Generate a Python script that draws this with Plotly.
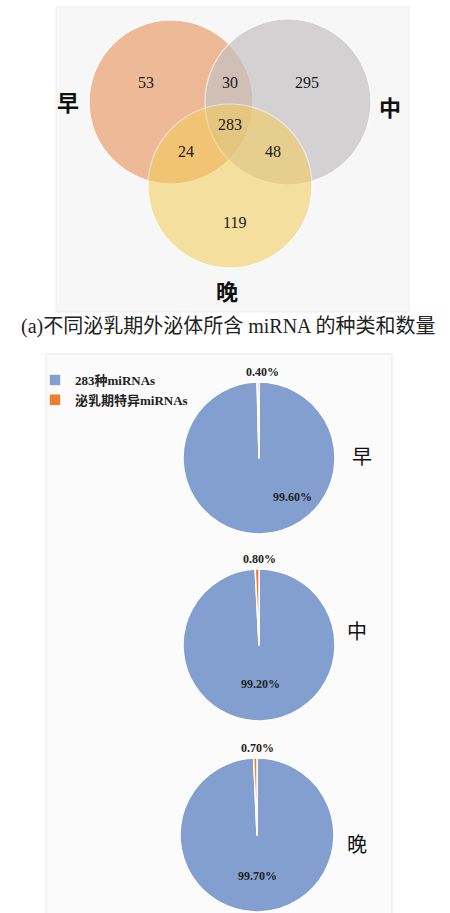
import plotly.graph_objects as go

W, H = 450, 913

# Venn counts for the three lactation stages
stages = ["早", "中", "晚"]
venn_regions = ["早", "早∩中", "中", "早∩中∩晚", "早∩晚", "中∩晚", "晚"]
venn_counts = [53, 30, 295, 283, 24, 48, 119]

# Share of shared (283) vs stage-specific miRNAs per stage, in percent
pie_labels = ["283种miRNAs", "泌乳期特异miRNAs"]
shared_pct = [99.60, 99.20, 99.70]
specific_pct = [0.40, 0.80, 0.70]

caption = "(a)不同泌乳期外泌体所含 miRNA 的种类和数量"

SERIF = "Liberation Serif, Noto Sans CJK SC, serif"
CJK = "Noto Sans CJK SC, serif"

fig = go.Figure()

# ---- layout helpers (pixel space: x right, y down) ----
def px_domain(x0, x1, y0, y1):
    return dict(x=[x0 / W, x1 / W], y=[1 - y1 / H, 1 - y0 / H])

shapes = []
annotations = []

# panel backgrounds
shapes.append(dict(type="rect", xref="x", yref="y", x0=56, x1=409, y0=7, y1=312,
                   fillcolor="#F7F7F7", line=dict(color="#EDEDED", width=1), layer="below"))
shapes.append(dict(type="rect", xref="x", yref="y", x0=46, x1=392, y0=354, y1=915,
                   fillcolor="#FBFBFB", line=dict(color="#E8E8E8", width=1), layer="below"))

# Venn circles: centre x, centre y, radius, colour, opacity
circles = [
    (171, 102, 82, "rgb(237,185,150)", 1.0),
    (288, 102, 83, "rgb(197,194,194)", 0.7),
    (230, 186, 82, "rgb(245,205,89)", 0.55),
]
for cx, cy, r, col, op in circles:
    shapes.append(dict(type="circle", xref="x", yref="y", x0=cx - r, x1=cx + r,
                       y0=cy - r, y1=cy + r, fillcolor=col, opacity=op,
                       line=dict(color="white", width=1.2), layer="above"))

# region count positions
region_pos = [(146, 82), (230, 82), (307, 82), (230, 124), (186, 151), (273, 151), (234, 222)]
for (x, y), n in zip(region_pos, venn_counts):
    annotations.append(dict(x=x, y=y, xref="x", yref="y", text=str(n), showarrow=False,
                            font=dict(family=SERIF, size=16, color="#1a1a1a")))

# stage names around the Venn
venn_label_pos = [(68, 101), (390, 106), (227, 290)]
for (x, y), s in zip(venn_label_pos, stages):
    annotations.append(dict(x=x, y=y, xref="x", yref="y", text=s, showarrow=False,
                            font=dict(family=CJK, size=22, color="#111", weight="bold")))

annotations.append(dict(x=228, y=326, xref="x", yref="y", text=caption, showarrow=False,
                        font=dict(family=SERIF, size=20, color="#222")))

# ---- pies ----
pie_geo = [(259, 458, 76), (259, 645, 76), (257, 835, 77)]
colors = ["#829FCF", "#ED7D31"]
for i, ((cx, cy, r), a, b) in enumerate(zip(pie_geo, shared_pct, specific_pct)):
    fig.add_trace(go.Pie(
        labels=pie_labels, values=[a, b], sort=False, direction="clockwise",
        rotation=0, textinfo="none", hoverinfo="label+value",
        marker=dict(colors=colors, line=dict(color="white", width=1.5)),
        domain=px_domain(cx - r, cx + r, cy - r, cy + r),
        showlegend=(i == 0),
    ))

small_lbl_pos = [(262, 372), (259, 559), (257, 748)]
big_lbl_pos = [(292, 497), (260, 684), (257, 876)]
stage_lbl_pos = [(362, 455), (357, 630), (357, 843)]
for i in range(3):
    annotations.append(dict(x=small_lbl_pos[i][0], y=small_lbl_pos[i][1], xref="x", yref="y",
                            text=f"{specific_pct[i]:.2f}%", showarrow=False,
                            font=dict(family=SERIF, size=12, color="#222", weight="bold")))
    annotations.append(dict(x=big_lbl_pos[i][0], y=big_lbl_pos[i][1], xref="x", yref="y",
                            text=f"{shared_pct[i]:.2f}%", showarrow=False,
                            font=dict(family=SERIF, size=12, color="#222", weight="bold")))
    annotations.append(dict(x=stage_lbl_pos[i][0], y=stage_lbl_pos[i][1], xref="x", yref="y",
                            text=stages[i], showarrow=False,
                            font=dict(family=CJK, size=20, color="#111")))

fig.update_layout(
    width=W, height=H, margin=dict(l=0, r=0, t=0, b=0),
    paper_bgcolor="white", plot_bgcolor="white",
    xaxis=dict(range=[0, W], visible=False, domain=[0, 1], fixedrange=True),
    yaxis=dict(range=[H, 0], visible=False, domain=[0, 1], fixedrange=True),
    shapes=shapes, annotations=annotations,
    legend=dict(x=35 / W, y=1 - 365 / H, xanchor="left", yanchor="top",
                bgcolor="rgba(0,0,0,0)", itemwidth=30, tracegroupgap=0,
                font=dict(family=SERIF, size=13, color="#222", weight="bold")),
)

fig.write_html("out.html")
